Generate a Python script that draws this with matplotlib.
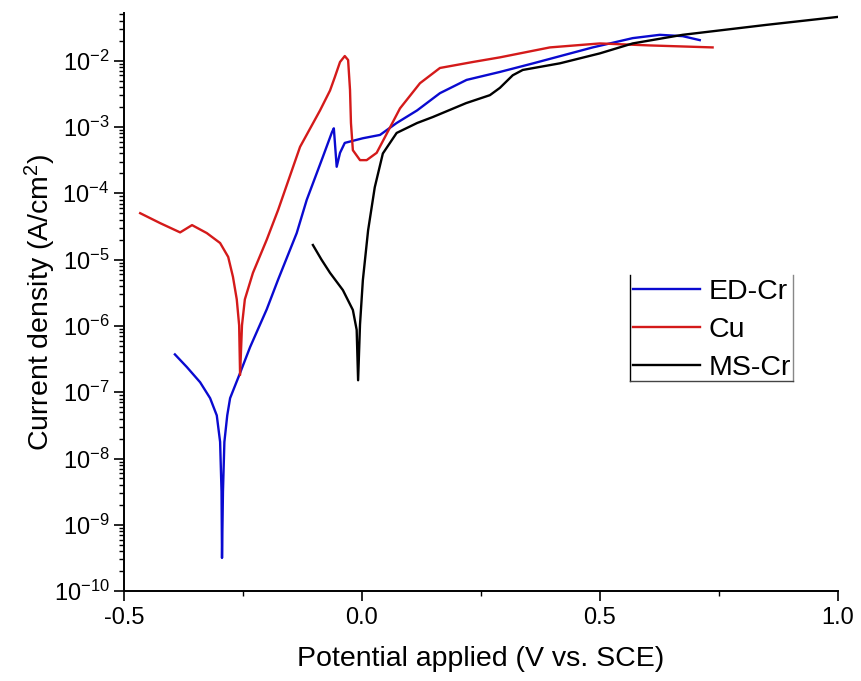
"""
Tafel / potentiodynamic polarisation curves for ED-Cr, Cu and MS-Cr.
Values read off the reference picture (log10 current density).
Output: out.png
"""
import matplotlib

matplotlib.use("Agg")
import matplotlib.pyplot as plt
import numpy as np
from matplotlib.lines import Line2D
from matplotlib.ticker import FormatStrFormatter, LogLocator, MultipleLocator

plt.rcParams["font.family"] = ["Liberation Sans", "DejaVu Sans"]
plt.rcParams["mathtext.fontset"] = "custom"
plt.rcParams["mathtext.rm"] = "Liberation Sans"
plt.rcParams["mathtext.it"] = "Liberation Sans:italic"

# potential (V vs SCE) and log10(current density, A/cm2)
ed_cr_e = [-0.393, -0.368, -0.34, -0.319, -0.305, -0.298, -0.295, -0.294, -0.292,
           -0.289, -0.283, -0.277, -0.256, -0.235, -0.2, -0.176, -0.137, -0.116,
           -0.082, -0.063, -0.059, -0.053, -0.046, -0.036, 0.002, 0.038, 0.073,
           0.116, 0.164, 0.22, 0.29, 0.36, 0.485, 0.569, 0.626, 0.674, 0.71]
ed_cr_logi = [-6.43, -6.62, -6.85, -7.09, -7.35, -7.75, -8.5, -9.5, -8.5,
              -7.75, -7.35, -7.09, -6.71, -6.32, -5.75, -5.3, -4.6, -4.1,
              -3.45, -3.08, -3.02, -3.6, -3.39, -3.24, -3.17, -3.12, -2.94,
              -2.75, -2.49, -2.29, -2.17, -2.04, -1.8, -1.66, -1.61, -1.63, -1.69]

cu_e = [-0.466, -0.424, -0.382, -0.357, -0.326, -0.298, -0.281, -0.271, -0.263,
        -0.258, -0.256, -0.252, -0.246, -0.229, -0.2, -0.176, -0.13, -0.088,
        -0.067, -0.057, -0.046, -0.036, -0.029, -0.025, -0.023, -0.019, -0.004,
        0.01, 0.031, 0.053, 0.08, 0.122, 0.164, 0.233, 0.29, 0.395, 0.5,
        0.605, 0.737]
cu_logi = [-4.30, -4.45, -4.59, -4.48, -4.6, -4.75, -4.96, -5.26, -5.6,
           -5.99, -6.74, -5.99, -5.6, -5.2, -4.7, -4.25, -3.3, -2.75,
           -2.45, -2.25, -2.02, -1.93, -1.99, -2.44, -2.94, -3.35, -3.5,
           -3.5, -3.39, -3.09, -2.72, -2.34, -2.11, -2.02, -1.95, -1.8, -1.74,
           -1.77, -1.8]

ms_cr_e = [-0.103, -0.085, -0.067, -0.04, -0.019, -0.011, -0.008, -0.004, 0.002,
           0.013, 0.027, 0.044, 0.073, 0.116, 0.149, 0.219, 0.269, 0.29, 0.317,
           0.338, 0.416, 0.5, 0.569, 0.674, 0.85, 1.0]
ms_cr_logi = [-4.78, -5.0, -5.2, -5.46, -5.76, -6.06, -6.82, -5.98, -5.31,
              -4.56, -3.91, -3.4, -3.09, -2.94, -2.85, -2.64, -2.52, -2.41, -2.22,
              -2.14, -2.04, -1.89, -1.74, -1.61, -1.46, -1.34]

series = [
    ("ED-Cr", ed_cr_e, ed_cr_logi, "#0a0ad0"),
    ("Cu", cu_e, cu_logi, "#d41a1a"),
    ("MS-Cr", ms_cr_e, ms_cr_logi, "black"),
]

fig = plt.figure(figsize=(8.61, 6.81), dpi=100)
ax = fig.add_axes([0.144, 0.132, 0.829, 0.849])

for name, e, logi, color in series:
    ax.plot(e, 10 ** np.array(logi), color=color, linewidth=1.7, label=name)

ax.set_yscale("log")
ax.set_xlim(-0.5, 1.0)
ax.set_ylim(1e-10, 10 ** -1.28)

ax.xaxis.set_major_locator(MultipleLocator(0.5))
ax.xaxis.set_minor_locator(MultipleLocator(0.25))
ax.xaxis.set_major_formatter(FormatStrFormatter("%.1f"))
ax.yaxis.set_major_locator(LogLocator(base=10, numticks=20))
ax.yaxis.set_minor_locator(LogLocator(base=10, subs=np.arange(2, 10), numticks=20))

for side in ["top", "right"]:
    ax.spines[side].set_visible(False)
for side in ["left", "bottom"]:
    ax.spines[side].set_linewidth(1.4)

ax.tick_params(which="major", direction="out", length=7.5, width=1.2, labelsize=17)
ax.tick_params(which="minor", direction="out", length=3.5, width=1.0)
ax.tick_params(axis="x", pad=4)
ax.tick_params(axis="y", pad=3)

ax.set_xlabel("Potential applied (V vs. SCE)", fontsize=20.5, labelpad=12)
ax.set_ylabel("Current density (A/cm$^2$)", fontsize=20.5, labelpad=-3)

leg = ax.legend(frameon=False, fontsize=20.5, handlelength=2.35, handletextpad=0.3,
                labelspacing=0.42, borderpad=0.1, loc="upper left",
                bbox_to_anchor=(630 / 861, 1 - 276 / 681),
                bbox_transform=fig.transFigure, borderaxespad=0)

# partial legend box (left, right, bottom edges)
x0, x1 = 630 / 861, 793 / 861
y0, y1 = 1 - 381 / 681, 1 - 275 / 681
for xs, ys, c in [([x0, x0], [y0, y1], "black"),
                  ([x1, x1], [y0, y1], "#888888"),
                  ([x0, x1], [y0, y0], "#444444")]:
    fig.add_artist(Line2D(xs, ys, transform=fig.transFigure, color=c, linewidth=1.0))

fig.savefig("out.png", dpi=100)
